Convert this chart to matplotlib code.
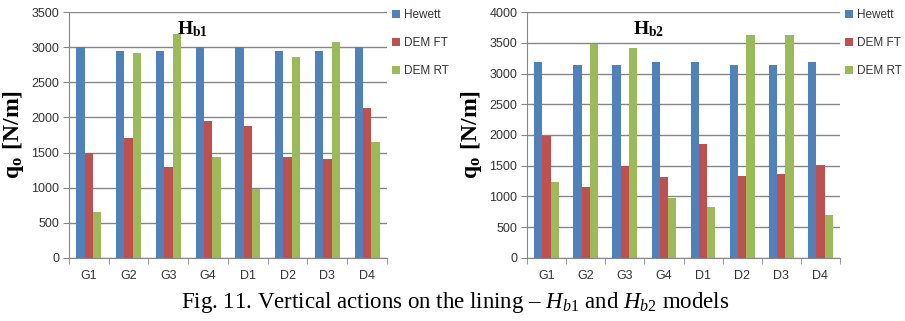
import numpy as np
import matplotlib
matplotlib.use("Agg")
import matplotlib.pyplot as plt

plt.rcParams["mathtext.fontset"] = "custom"
plt.rcParams["mathtext.rm"] = "Liberation Serif"
plt.rcParams["mathtext.it"] = "Liberation Serif:italic"
plt.rcParams["mathtext.bf"] = "Liberation Serif:bold"

cases = ["G1", "G2", "G3", "G4", "D1", "D2", "D3", "D4"]
series = ["Hewett", "DEM FT", "DEM RT"]
colors = ["#4F81BD", "#C0504D", "#9BBB59"]

# H_b1 model
hb1_hewett = [3000, 2950, 2950, 3000, 3000, 2950, 2950, 3000]
hb1_dem_ft = [1500, 1710, 1290, 1950, 1880, 1440, 1410, 2130]
hb1_dem_rt = [650, 2910, 3180, 1430, 980, 2860, 3080, 1650]

# H_b2 model
hb2_hewett = [3190, 3140, 3140, 3190, 3190, 3140, 3140, 3190]
hb2_dem_ft = [1990, 1150, 1500, 1320, 1860, 1330, 1370, 1520]
hb2_dem_rt = [1230, 3480, 3410, 970, 830, 3630, 3620, 700]


def draw_panel(ax, data, ymax, title):
    x = np.arange(len(cases))
    w = 0.21
    for i, (vals, name, col) in enumerate(zip(data, series, colors)):
        ax.bar(x + (i - 1) * w, vals, w, color=col, label=name, zorder=3)
    ax.set_xlim(-0.5, len(cases) - 0.5)
    ax.set_ylim(0, ymax)
    ax.set_yticks(np.arange(0, ymax + 1, 500))
    ax.yaxis.grid(True, color="#868686", linewidth=1.0, zorder=0)
    ax.set_xticks(x)
    ax.set_xticklabels(cases)
    ax.set_xticks(np.arange(-0.5, len(cases)), minor=True)
    ax.tick_params(axis="x", which="major", length=0, pad=9)
    ax.tick_params(axis="x", which="minor", length=4, color="#868686", direction="out")
    ax.tick_params(axis="y", length=4, color="#868686", pad=3)
    for lab in ax.get_xticklabels() + ax.get_yticklabels():
        lab.set_fontfamily("Liberation Sans")
        lab.set_fontsize(9)
        lab.set_color("#333333")
    for s in ["top", "right"]:
        ax.spines[s].set_visible(False)
    for s in ["left", "bottom"]:
        ax.spines[s].set_color("#868686")
    ax.set_ylabel(r"$\mathbf{q_o}$ $\mathbf{[N/m]}$", fontsize=17, labelpad=4)
    ax.text(0.39, 0.93, title, transform=ax.transAxes, fontsize=14,
            ha="center", va="center")
    leg = ax.legend(loc="upper left", bbox_to_anchor=(1.0, 1.03), frameon=False,
                    borderaxespad=0.1, borderpad=0.3,
                    handlelength=0.7, handleheight=0.7, handletextpad=0.35,
                    labelspacing=1.35, prop={"family": "Liberation Sans", "size": 8.5})
    for t in leg.get_texts():
        t.set_color("#333333")


fig = plt.figure(figsize=(9.05, 3.21), dpi=100)
ax1 = fig.add_axes([0.0762, 0.1963, 0.3514, 0.7663])
ax2 = fig.add_axes([0.5823, 0.1963, 0.3459, 0.7663])

draw_panel(ax1, [hb1_hewett, hb1_dem_ft, hb1_dem_rt], 3500, r"$\mathbf{H_{b1}}$")
draw_panel(ax2, [hb2_hewett, hb2_dem_ft, hb2_dem_rt], 4000, r"$\mathbf{H_{b2}}$")

fig.text(0.503, 0.058, r"Fig. 11. Vertical actions on the lining – $H_{b1}$ and $H_{b2}$ models",
         ha="center", va="center", fontsize=16.5, fontfamily="Liberation Serif")

fig.savefig("out.png", dpi=100)
